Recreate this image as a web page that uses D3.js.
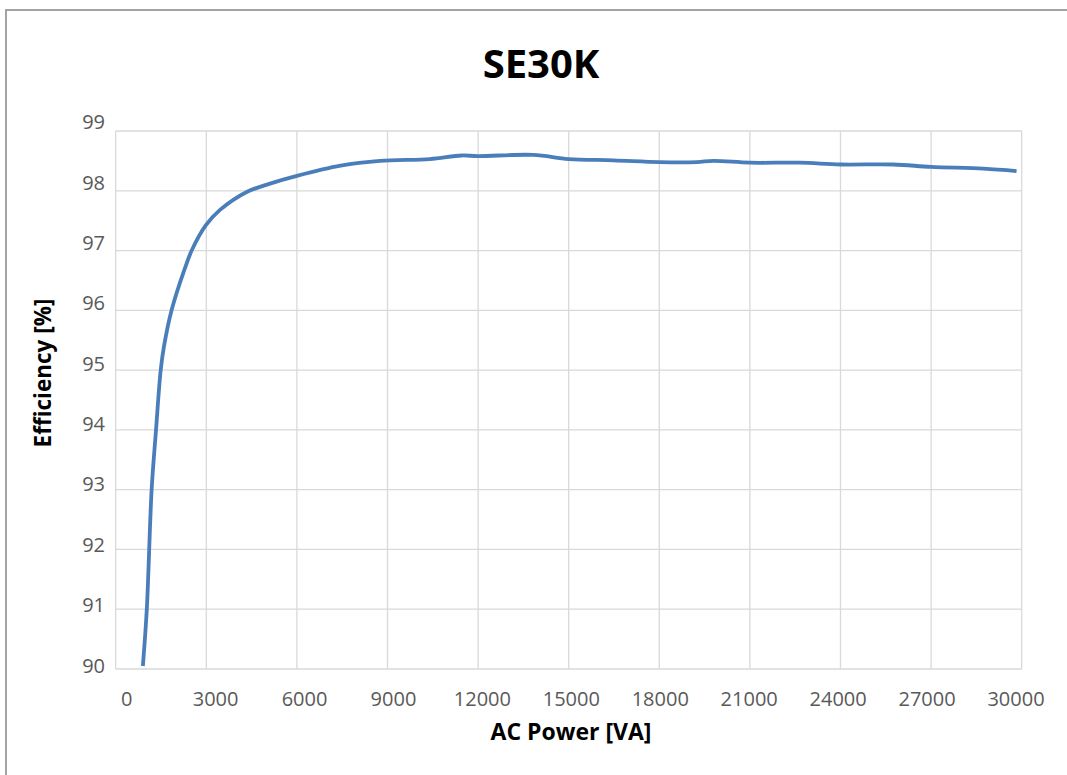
<!DOCTYPE html>
<html>
<head>
<meta charset="utf-8">
<script src="https://cdn.jsdelivr.net/npm/d3@7"></script>
<style>
	body { margin: 0; background: #fff; }
	svg { display: block; }
</style>
</head>
<body>
<svg id="chart" width="1067" height="775"></svg>
<script>
// efficiency curve
var powerVA = [900, 1030, 1190, 1335, 1490, 1600, 1850, 2290, 2516, 2980, 3454, 4338, 5110, 6000, 7450, 8750, 10400, 11450, 12000, 13830, 15000, 16480, 18000, 19240, 19790, 21000, 22660, 24000, 25750, 27000, 28730, 29830];
var efficiency = [90.05, 91.0, 93.0, 94.0, 95.0, 95.4, 96.0, 96.7, 97.0, 97.42, 97.68, 97.98, 98.12, 98.25, 98.42, 98.5, 98.53, 98.59, 98.58, 98.6, 98.53, 98.51, 98.48, 98.48, 98.5, 98.47, 98.47, 98.44, 98.44, 98.4, 98.37, 98.33];
var xTicks = [0, 3000, 6000, 9000, 12000, 15000, 18000, 21000, 24000, 27000, 30000];
var yTicks = [90, 91, 92, 93, 94, 95, 96, 97, 98, 99];

var svg = d3.select("#chart");
var FONT = "'Open Sans', sans-serif";
var GRID = "#d9d9d9";

// outer frame, only top and left edges are visible in the picture
svg.append("rect")
	.attr("x", 6).attr("y", 10)
	.attr("width", 1100).attr("height", 800)
	.attr("fill", "none")
	.attr("stroke", "#a3a3a3")
	.attr("stroke-width", 2);

var x = d3.scaleLinear().domain([0, 30000]).range([115.7, 1021.7]);
var y = d3.scaleLinear().domain([90, 99]).range([669, 131]);

// the tick labels do not sit exactly on the grid lines in the source
var xLab = d3.scaleLinear().domain([0, 30000]).range([126.7, 1016]);
var yLab = d3.scaleLinear().domain([90, 99]).range([665, 121.7]);

// grid
svg.append("g").selectAll("line").data(xTicks).enter().append("line")
	.attr("x1", function(d) { return x(d); })
	.attr("x2", function(d) { return x(d); })
	.attr("y1", y(99)).attr("y2", y(90))
	.attr("stroke", GRID).attr("stroke-width", 1.3);

svg.append("g").selectAll("line").data(yTicks).enter().append("line")
	.attr("x1", x(0)).attr("x2", x(30000))
	.attr("y1", function(d) { return y(d); })
	.attr("y2", function(d) { return y(d); })
	.attr("stroke", GRID).attr("stroke-width", 1.3);

// tick labels
svg.append("g").selectAll("text").data(xTicks).enter().append("text")
	.attr("x", function(d) { return xLab(d); })
	.attr("y", 698)
	.attr("text-anchor", "middle")
	.attr("dominant-baseline", "central")
	.style("font-family", FONT).style("font-size", "20px")
	.style("fill", "#595959")
	.text(function(d) { return d; });

svg.append("g").selectAll("text").data(yTicks).enter().append("text")
	.attr("x", 105)
	.attr("y", function(d) { return yLab(d); })
	.attr("text-anchor", "end")
	.attr("dominant-baseline", "central")
	.style("font-family", FONT).style("font-size", "20px")
	.style("fill", "#595959")
	.text(function(d) { return d; });

// curve
var pts = powerVA.map(function(p, i) { return [p, efficiency[i]]; });
var line = d3.line()
	.x(function(d) { return x(d[0]); })
	.y(function(d) { return y(d[1]); })
	.curve(d3.curveCatmullRom.alpha(0.5));

svg.append("path")
	.datum(pts)
	.attr("d", line)
	.attr("fill", "none")
	.attr("stroke", "#4a7ebb")
	.attr("stroke-width", 3.8)
	.attr("stroke-linejoin", "round");

// titles
svg.append("text")
	.attr("x", 541).attr("y", 78)
	.attr("text-anchor", "middle")
	.style("font-family", FONT).style("font-weight", "bold")
	.style("font-size", "40px").style("fill", "#000")
	.text("SE30K");

svg.append("text")
	.attr("x", 571).attr("y", 740)
	.attr("text-anchor", "middle")
	.style("font-family", FONT).style("font-weight", "bold")
	.style("font-size", "23px").style("fill", "#000")
	.text("AC Power [VA]");

svg.append("text")
	.attr("transform", "translate(51,373) rotate(-90)")
	.attr("text-anchor", "middle")
	.style("font-family", FONT).style("font-weight", "bold")
	.style("font-size", "22.5px").style("fill", "#000")
	.text("Efficiency [%]");
</script>
</body>
</html>
